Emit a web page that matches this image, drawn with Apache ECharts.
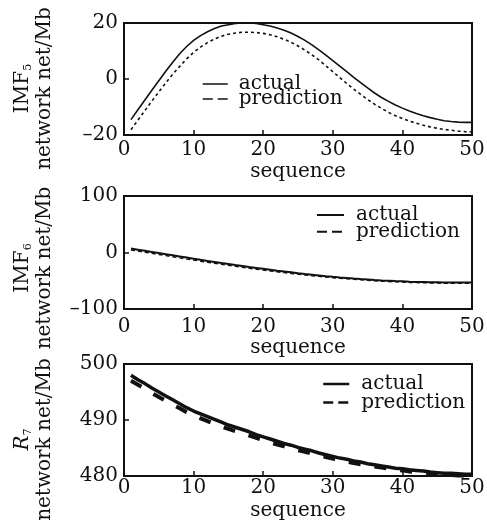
<!DOCTYPE html>
<html>
<head>
<meta charset="utf-8">
<script src="https://cdn.jsdelivr.net/npm/echarts@6/dist/echarts.min.js"></script>
<style>html,body{margin:0;padding:0;background:#fff}#c{width:487px;height:522px}</style>
</head>
<body>
<div id="c"></div>
<script>
const seq = [1,2,3,4,5,6,7,8,9,10,11,12,13,14,15,16,17,18,19,20,21,22,23,24,25,26,27,28,29,30,31,32,33,34,35,36,37,38,39,40,41,42,43,44,45,46,47,48,49,50];

const imf5Actual = [-14.5,-11.0,-7.5,-4.0,-0.6,2.8,6.0,9.0,11.6,13.8,15.5,16.9,18.0,18.9,19.4,19.8,20.0,20.0,19.8,19.4,18.9,18.2,17.4,16.4,15.2,13.8,12.2,10.4,8.5,6.6,4.6,2.6,0.6,-1.3,-3.2,-5.0,-6.6,-8.0,-9.3,-10.4,-11.4,-12.3,-13.1,-13.8,-14.4,-14.9,-15.2,-15.4,-15.5,-15.5];
const imf5Pred = [-18.1,-14.7,-11.3,-7.9,-4.6,-1.4,1.7,4.5,7.2,9.5,11.4,13.0,14.3,15.3,16.0,16.4,16.7,16.7,16.6,16.3,15.8,15.1,14.2,13.1,11.8,10.3,8.6,6.8,4.7,2.6,0.5,-1.6,-3.6,-5.5,-7.3,-9.0,-10.5,-11.9,-13.1,-14.1,-15.0,-15.8,-16.5,-17.1,-17.6,-18.0,-18.3,-18.6,-18.8,-18.9];

const imf6Actual = [7,5,3,1,-1,-3,-5,-7,-9,-11,-13,-14.9,-16.8,-18.7,-20.5,-22.3,-24.0,-25.7,-27.3,-28.9,-30.5,-32.1,-33.6,-35.1,-36.6,-38.0,-39.3,-40.6,-41.9,-43.1,-44.2,-45.2,-46.2,-47.1,-47.9,-48.7,-49.4,-50.0,-50.6,-51.1,-51.6,-52.0,-52.3,-52.6,-52.8,-53.0,-53.1,-53.2,-53.2,-53.2];
const imf6Pred = [4.5,2.5,0.5,-1.5,-3.5,-5.5,-7.5,-9.5,-11.5,-13.4,-15.3,-17.2,-19.1,-20.9,-22.7,-24.5,-26.2,-27.9,-29.5,-31.1,-32.6,-34.1,-35.6,-37.0,-38.4,-39.7,-41.0,-42.2,-43.4,-44.5,-45.6,-46.6,-47.5,-48.4,-49.2,-50.0,-50.7,-51.3,-51.9,-52.4,-52.9,-53.3,-53.6,-53.9,-54.1,-54.3,-54.4,-54.5,-54.5,-54.5];

const r7Actual = [498.0,497.2,496.5,495.7,495.0,494.3,493.6,492.9,492.2,491.6,491.1,490.6,490.1,489.6,489.1,488.7,488.3,487.9,487.4,487.0,486.6,486.2,485.8,485.5,485.1,484.8,484.5,484.1,483.8,483.5,483.2,483.0,482.7,482.5,482.2,482.0,481.8,481.6,481.4,481.3,481.1,481.0,480.9,480.7,480.6,480.5,480.5,480.4,480.3,480.3];
const r7Pred = [497.0,496.3,495.6,494.8,494.1,493.4,492.7,492.1,491.4,490.8,490.3,489.8,489.3,488.8,488.4,488.0,487.6,487.2,486.8,486.4,486.0,485.6,485.3,484.9,484.6,484.3,484.0,483.7,483.4,483.1,482.8,482.6,482.3,482.1,481.9,481.7,481.5,481.3,481.1,481.0,480.8,480.7,480.6,480.5,480.4,480.3,480.2,480.1,480.1,480.0];

const xTicks = {min: 0, max: 50, interval: 10};
const yTicks = [
  {min: -20, max: 20, interval: 20},
  {min: -100, max: 100, interval: 100},
  {min: 480, max: 500, interval: 10}
];
const seriesNames = ['actual', 'prediction'];
const xName = 'sequence';
const yNames = [
  '{a|IMF}{s|5}\n{a|network net/Mb}',
  '{a|IMF}{s|6}\n{a|network net/Mb}',
  '{i|R}{s|7}\n{a|network net/Mb}'
];

const F = '"DejaVu Serif", "Liberation Serif", serif';
const INK = '#111';
const pairs = (ys) => seq.map((x, i) => [x, ys[i]]);

const layout = [
  {top: 23, height: 112, xMargin: 5, xGap: 27, yPad: 19},
  {top: 196, height: 113, xMargin: 8, xGap: 25, yPad: 31},
  {top: 364, height: 112, xMargin: 2, xGap: 25, yPad: 39}
];

const grids = layout.map(l => ({left: 124, right: 15, top: l.top, height: l.height, show: true, borderColor: INK, borderWidth: 2, containLabel: false, outerBoundsMode: 'none'}));

const xAxes = layout.map((l, i) => ({
  type: 'value', gridIndex: i, min: xTicks.min, max: xTicks.max, interval: xTicks.interval,
  name: xName, nameLocation: 'middle', nameGap: l.xGap,
  nameTextStyle: {fontFamily: F, fontSize: 20, color: INK},
  axisLine: {onZero: false, lineStyle: {color: INK, width: 2}},
  axisTick: {inside: true, length: 5, lineStyle: {color: INK, width: 1.5}},
  axisLabel: {margin: l.xMargin, fontFamily: F, fontSize: 20, color: INK},
  splitLine: {show: false}
}));

const yAxes = layout.map((l, i) => ({
  type: 'value', gridIndex: i, min: yTicks[i].min, max: yTicks[i].max, interval: yTicks[i].interval,
  name: yNames[i], nameLocation: 'middle', nameGap: 68,
  nameTruncate: {maxWidth: 400, ellipsis: ''},
  nameMoveOverlap: false,
  nameTextStyle: {
    fontFamily: F, fontSize: 20, color: INK, lineHeight: 22, padding: [0, l.yPad, 0, 0],
    rich: {
      a: {fontFamily: F, fontSize: 20, lineHeight: 22, color: INK},
      i: {fontFamily: F, fontSize: 20, lineHeight: 22, fontStyle: 'italic', color: INK},
      s: {fontFamily: F, fontSize: 11, lineHeight: 22, verticalAlign: 'bottom', color: INK}
    }
  },
  axisLine: {onZero: false, lineStyle: {color: INK, width: 2}},
  axisTick: {inside: true, length: 5, lineStyle: {color: INK, width: 1.5}},
  axisLabel: {margin: 6, fontFamily: F, fontSize: 20, color: INK,
    formatter: v => String(v).replace('-', '\u2013')},
  splitLine: {show: false}
}));

const legendCfg = [
  {left: 202, top: 74, w: 25, gap: -5, pad: 6, lw: 1.5},
  {left: 316, top: 205, w: 27, gap: -3.3, pad: 7, lw: 2},
  {left: 322, top: 374, w: 26, gap: -1.6, pad: 7, lw: 2.5}
];
const legends = legendCfg.map(c => ({
  orient: 'vertical', left: c.left, top: c.top, itemWidth: c.w, itemHeight: 14, itemGap: c.gap,
  selectedMode: false, padding: 0,
  textStyle: {fontFamily: F, fontSize: 20, color: INK, padding: [0, 0, 0, c.pad]},
  data: [
    {name: seriesNames[0], itemStyle: {color: 'rgba(0,0,0,0)', borderWidth: 0, opacity: 0}, lineStyle: {type: 'solid', width: c.lw, color: INK}},
    {name: seriesNames[1], itemStyle: {color: 'rgba(0,0,0,0)', borderWidth: 0, opacity: 0}, lineStyle: {type: [10, 5], width: c.lw, color: INK}}
  ]
}));

const series = [
  {name: seriesNames[0], type: 'line', xAxisIndex: 0, yAxisIndex: 0, data: pairs(imf5Actual), symbol: 'none', itemStyle: {color: INK}, lineStyle: {color: INK, width: 1.6}, z: 3},
  {name: seriesNames[1], type: 'line', xAxisIndex: 0, yAxisIndex: 0, data: pairs(imf5Pred), symbol: 'none', itemStyle: {color: INK}, lineStyle: {color: INK, width: 1.6, type: [3, 3]}, z: 2},
  {name: seriesNames[1], type: 'line', xAxisIndex: 1, yAxisIndex: 1, data: pairs(imf6Pred), symbol: 'none', itemStyle: {color: INK}, lineStyle: {color: INK, width: 1.5, type: [4, 3]}, z: 2},
  {name: seriesNames[0], type: 'line', xAxisIndex: 1, yAxisIndex: 1, data: pairs(imf6Actual), symbol: 'none', itemStyle: {color: INK}, lineStyle: {color: INK, width: 2}, z: 3},
  {name: seriesNames[1], type: 'line', xAxisIndex: 2, yAxisIndex: 2, data: pairs(r7Pred), symbol: 'none', itemStyle: {color: INK}, lineStyle: {color: INK, width: 4, type: [12, 14]}, z: 2},
  {name: seriesNames[0], type: 'line', xAxisIndex: 2, yAxisIndex: 2, data: pairs(r7Actual), symbol: 'none', itemStyle: {color: INK}, lineStyle: {color: INK, width: 3.5}, z: 3}
];

const chart = echarts.init(document.getElementById('c'), null, {renderer: 'canvas'});
chart.setOption({
  animation: false,
  backgroundColor: '#fff',
  grid: grids, xAxis: xAxes, yAxis: yAxes, legend: legends, series: series
});
</script>
</body>
</html>
